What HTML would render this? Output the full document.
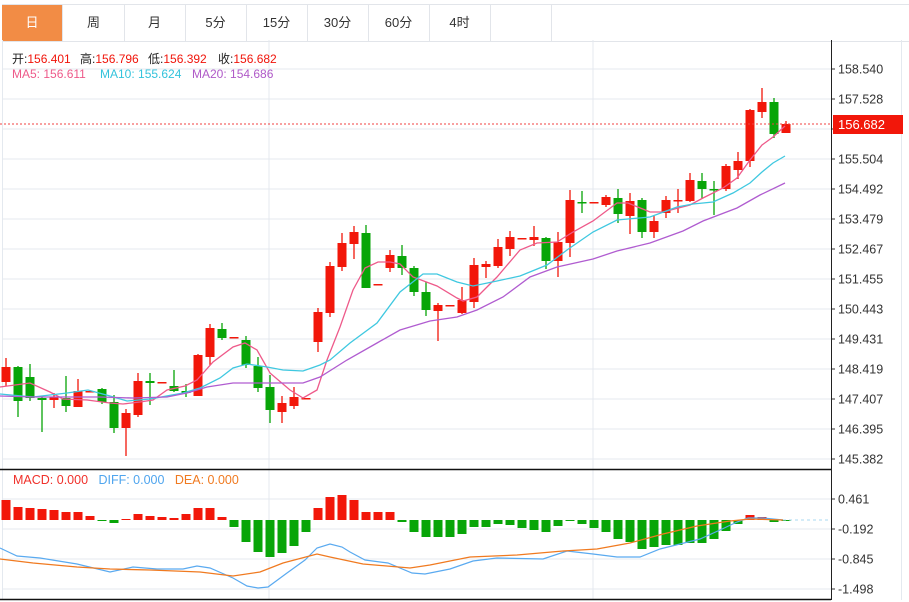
<!DOCTYPE html>
<html><head><meta charset="utf-8"><style>
body{margin:0;width:909px;height:602px;background:#fff;overflow:hidden;font-family:"Liberation Sans","Noto Sans CJK SC",sans-serif}
.tabs{position:absolute;left:2px;top:4px;height:36px;border-top:1px solid #e2e5ea;border-bottom:1px solid #e2e5ea;width:907px}
.tab{position:absolute;top:0;height:36px;width:61px;border-right:1px solid #e2e5ea;text-align:center;line-height:36px;font-size:13px;color:#333}
.hd{position:absolute;font-size:12px;white-space:pre}
</style></head><body>
<div class="tabs">
<div class="tab" style="left:0;background:#f28c45;color:#fff;width:60px">日</div>
<div class="tab" style="left:61px">周</div>
<div class="tab" style="left:122px">月</div>
<div class="tab" style="left:183px">5分</div>
<div class="tab" style="left:244px">15分</div>
<div class="tab" style="left:305px">30分</div>
<div class="tab" style="left:366px">60分</div>
<div class="tab" style="left:427px">4时</div>
<div class="tab" style="left:488px"></div>
</div>
<svg id="s" width="909" height="602" style="position:absolute;left:0;top:0" xmlns="http://www.w3.org/2000/svg"></svg>
<div class="hd" style="top:50px;left:12px;color:#222">开:<span style="color:#f0140a">156.401</span></div>
<div class="hd" style="top:50px;left:80px;color:#222">高:<span style="color:#f0140a">156.796</span></div>
<div class="hd" style="top:50px;left:148px;color:#222">低:<span style="color:#f0140a">156.392</span></div>
<div class="hd" style="top:50px;left:218px;color:#222">收:<span style="color:#f0140a">156.682</span></div>
<div class="hd" style="top:67px;left:12px;color:#ee5a8a">MA5: 156.611</div>
<div class="hd" style="top:67px;left:100px;color:#33c3dc">MA10: 155.624</div>
<div class="hd" style="top:67px;left:192px;color:#b05ac8">MA20: 154.686</div>
<div class="hd" style="top:473px;left:13px;font-size:12.5px"><span style="color:#f0302a">MACD: 0.000</span>   <span style="color:#4fa5ee">DIFF: 0.000</span>   <span style="color:#f07a20">DEA: 0.000</span></div>
<script>
var s='';
var R='#f2170a',G='#08a508';
var labs=['158.540','157.528','','155.504','154.492','153.479','152.467','151.455','150.443','149.431','148.419','147.407','146.395','145.382'];
for(var k=0;k<14;k++){var y=69+30*k;s+='<line x1="3" x2="831" y1="'+y+'" y2="'+y+'" stroke="#e4e9ef"/>';
 s+='<line x1="831" x2="835" y1="'+y+'" y2="'+y+'" stroke="#333"/>';
 if(labs[k])s+='<text x="838" y="'+(y+4.5)+'" font-size="12.5" fill="#333">'+labs[k]+'</text>';}
var ml=['0.461','-0.192','-0.845','-1.498'];
for(var k=0;k<4;k++){var y=499+30*k;s+='<line x1="3" x2="831" y1="'+y+'" y2="'+y+'" stroke="#e4e9ef"/><line x1="831" x2="835" y1="'+y+'" y2="'+y+'" stroke="#333"/><text x="838" y="'+(y+4.5)+'" font-size="12.5" fill="#333">'+ml[k]+'</text>';}
s+='<line x1="269" x2="269" y1="40" y2="599" stroke="#e4e9ef"/><line x1="593" x2="593" y1="40" y2="599" stroke="#e4e9ef"/><line x1="2.5" x2="2.5" y1="40" y2="600" stroke="#e4e9ef"/><line x1="901.5" x2="901.5" y1="40" y2="600" stroke="#e4e9ef"/>';
s+='<line x1="831.5" x2="831.5" y1="40" y2="600" stroke="#222"/>';
s+='<line x1="0" x2="831" y1="469.5" y2="469.5" stroke="#111" stroke-width="1.5"/><line x1="0" x2="831" y1="599.5" y2="599.5" stroke="#111" stroke-width="1.5"/>';
var C=[[367,382,358,386,R],[367,401,366,417,G],[377,398,364,401,G],[398,400,397,432,G],[397,400,393,408,R],[398,406,376,412,G],[391,407,379,407,R],[391,392,391,392,R],[389,402,388,404,G],[402,428,395,433,G],[413,428,409,456,R],[381,415,373,417,R],[381,383,373,405,G],[382,383,382,383,R],[386,391,370,392,G],[391,393,384,397,G],[355,396,354,396,R],[328,357,324,365,R],[329,338,323,340,G],[337,338,337,338,R],[340,365,336,368,G],[366,388,357,392,G],[387,410,375,423,G],[403,412,396,423,R],[397,406,387,409,R],[398,399,398,399,R],[312,342,308,352,R],[266,313,262,317,R],[243,267,233,271,R],[232,244,226,259,R],[233,288,225,288,G],[284,285,284,285,R],[255,268,250,272,R],[256,268,245,275,G],[268,292,266,296,G],[292,310,282,316,G],[305,311,303,341,R],[305,306,305,306,R],[300,313,287,314,R],[265,302,258,308,R],[264,267,261,278,R],[247,266,239,268,R],[237,249,231,256,R],[238,239,238,239,R],[237,240,226,246,R],[238,261,237,269,G],[242,261,232,277,R],[200,243,190,257,R],[202,203,191,213,G],[202,203,202,203,R],[197,205,195,207,R],[198,214,189,223,G],[201,216,193,234,R],[200,232,198,238,G],[221,232,216,238,R],[200,213,196,218,R],[200,201,189,213,R],[180,201,173,202,R],[181,189,173,199,G],[189,190,181,215,G],[166,189,164,191,R],[161,170,152,179,R],[110,161,109,167,R],[102,112,88,118,R],[102,134,98,138,G],[124,133,121,133,R]];
C.forEach(function(c,i){var x=6+12*i;
 s+='<line x1="'+x+'" x2="'+x+'" y1="'+c[2]+'" y2="'+c[3]+'" stroke="'+c[4]+'" stroke-width="1.3"/>';
 s+='<rect x="'+(x-4.5)+'" y="'+c[0]+'" width="9" height="'+Math.max(1.5,c[1]-c[0])+'" fill="'+c[4]+'"/>';});
function pl(p,col,w){s+='<polyline fill="none" stroke="'+col+'" stroke-width="'+(w||1.3)+'" points="'+p+'"/>';}
pl('0,387 30,383 50,392 63,399 87,400 110,403 123,404 140,402 153,400 167,390 185,386 197,380 213,362 233,347 245,343 257,350 270,373 290,390 303,398 317,390 327,360 340,327 353,290 365,268 378,262 390,262 400,264 413,277 437,286 457,298 463,301 477,297 497,277 520,250 537,243 557,242 573,232 593,221 617,203 628,203 650,212 663,212 690,205 703,198 723,188 737,178 750,160 762,145 773,137 785,126','#ee5a8a');
pl('0,394 33,397 67,393 88,390 110,396 127,401 150,399 183,393 200,388 220,378 233,368 247,364 267,367 283,370 303,371 320,365 330,360 350,343 377,323 400,292 423,274 437,274 457,282 473,286 497,281 520,276 547,265 567,250 593,232 617,220 650,217 677,207 693,204 713,202 733,193 750,183 762,172 773,163 785,156','#3fc8e0');
pl('0,396 33,397 67,397 100,397 133,398 167,397 187,393 207,387 233,383 267,383 303,383 320,377 347,360 377,343 400,330 430,321 457,317 477,310 503,297 530,277 557,267 593,259 617,251 650,243 683,231 703,221 737,208 760,195 785,183','#b05cd0');
s+='<line x1="0" x2="831" y1="124" y2="124" stroke="#f04040" stroke-dasharray="2,2"/>';
s+='<rect x="833" y="115" width="70" height="19" fill="#f2170a"/><text x="838" y="129" font-size="13" fill="#fff">156.682</text>';
var M=[500,507,508,509,510,512,512,516,521,523,519,514,516,517,518,514,508,508,517,527,542,552,557,553,546,532,508,497,495,500,512,512,512,522,532,537,537,537,534,527,527,524,525,528,530,532,526,520,524,528,532,539,542,549,547,545,545,543,543,539,531,524,515,517,522,520];
M.forEach(function(v,i){var x=6+12*i;var col=v<520?R:G;var t=Math.min(v,520),h=Math.abs(v-520);if(h<1)h=1;
 s+='<rect x="'+(x-4.5)+'" y="'+t+'" width="9" height="'+h+'" fill="'+col+'"/>';});
s+='<line x1="783" x2="831" y1="520" y2="520" stroke="#a8d8f0" stroke-dasharray="3,3"/>';
pl('0,548 17,556 40,558 77,564 110,572 133,567 157,569 183,569 197,566 210,568 233,578 247,586 258,588 268,587 287,573 305,560 317,548 330,544 342,547 350,552 365,560 388,563 412,573 425,574 450,569 473,561 497,558 543,559 567,551 593,554 617,557 640,557 660,549 680,544 700,539 720,530 737,522 748,518 763,518 783,520','#5aaaf0',1.2);
pl('0,559 33,563 77,567 110,569 150,570 200,572 233,576 260,572 283,563 317,554 330,557 363,564 410,568 430,565 470,557 517,555 563,551 597,549 630,543 663,534 697,526 730,521 750,519 783,520','#f07a20',1.3);
document.getElementById('s').innerHTML=s;
</script>
</body></html>
